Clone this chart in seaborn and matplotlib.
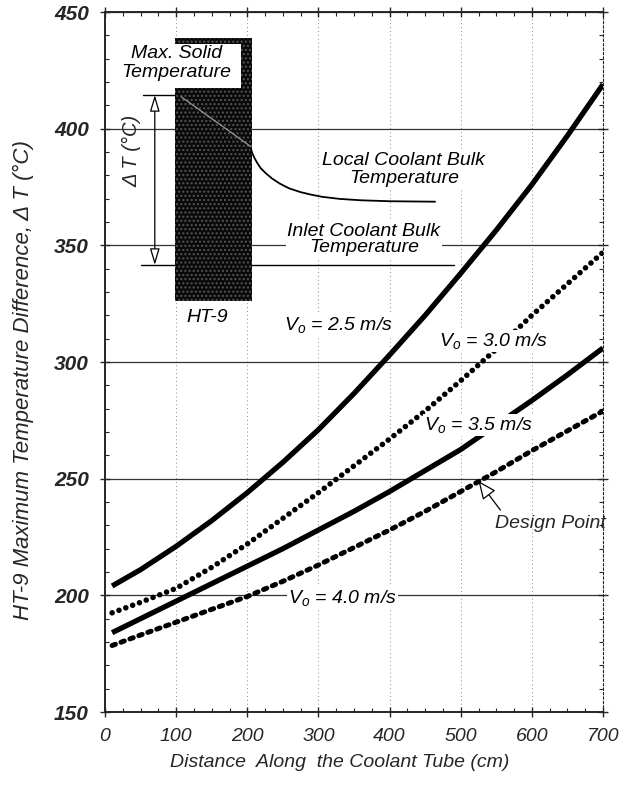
import matplotlib
matplotlib.use("Agg")
import pandas as pd
import matplotlib.pyplot as plt
import seaborn as sns
from matplotlib.patches import Rectangle
from matplotlib.ticker import MultipleLocator

# distance along the coolant tube (cm)
distance = [10, 50, 100, 150, 200, 250, 300, 350, 400, 450, 500, 550, 600, 650, 700]

# HT-9 maximum temperature difference (C) for each inlet velocity
dt_v25 = [204, 211, 221, 232, 244, 257, 271, 286.5, 303, 320, 338, 356.5, 376, 397, 419]
dt_v30 = [192.5, 197, 203, 212, 222, 233, 244, 255.5, 267, 279, 292, 305.5, 320, 333.5, 347]
dt_v35 = [184, 190, 197.5, 205, 212.5, 220, 228, 236, 244.5, 253.5, 262.5, 273, 283.5, 294.5, 306]
dt_v40 = [178.5, 183, 188.5, 194, 199.5, 206, 213, 220.5, 228, 236, 244.5, 253, 262, 270.5, 279]

velocity_labels = ["$V_o$ = 2.5 m/s", "$V_o$ = 3.0 m/s", "$V_o$ = 3.5 m/s", "$V_o$ = 4.0 m/s"]

# inset schematic of the HT-9 wall
block_x = [99, 206]
block_y = [326, 439]
label_box_x = [99, 191.5]
label_box_y = [417.3, 436.3]
diag_x = [107, 205]
diag_y = [413.7, 392.3]
local_x = [205, 207, 210, 214, 219, 226, 235, 246, 259, 275, 290, 305, 330, 360, 400, 464]
local_y = [391.5, 389.5, 387.5, 385.3, 383, 380.9, 378.6, 376.4, 374.4, 372.8, 371.7, 370.8,
           369.9, 369.3, 368.9, 368.7]
max_solid_x = [53, 99]
max_solid_y = 414.4
inlet_x = [51, 490]
inlet_y = 341.6
dt_arrow_x = 70
design_point = (525, 249)

sns.set_style("ticks")
plt.rcParams["font.family"] = ["Liberation Sans", "DejaVu Sans"]
plt.rcParams["font.style"] = "italic"
plt.rcParams["mathtext.fontset"] = "custom"
plt.rcParams["mathtext.it"] = "Liberation Sans:italic"
plt.rcParams["mathtext.rm"] = "Liberation Sans:italic"
plt.rcParams["mathtext.default"] = "it"

fig = plt.figure(figsize=(6.26, 7.87), dpi=100)
ax = fig.add_axes([105 / 626, 1 - 712 / 787, 498 / 626, 700 / 787])

df = pd.DataFrame({
    "distance": distance * 4,
    "dt": dt_v25 + dt_v30 + dt_v35 + dt_v40,
    "velocity": [v for v in velocity_labels for _ in distance],
})

styles = {
    velocity_labels[0]: dict(linestyle="-", lw=3.8),
    velocity_labels[1]: dict(linestyle=(0, (0.01, 1.3)), lw=4.0),
    velocity_labels[2]: dict(linestyle="-", lw=3.8),
    velocity_labels[3]: dict(linestyle=(0, (0.7, 1.2)), lw=3.6),
}
for v in velocity_labels:
    sns.lineplot(data=df[df["velocity"] == v], x="distance", y="dt", ax=ax,
                 color="black", errorbar=None, dash_capstyle="round",
                 solid_capstyle="butt", zorder=3, **styles[v])

# schematic block
ax.plot(inlet_x, [inlet_y, inlet_y], color="black", lw=1.0, zorder=2)
ax.plot(max_solid_x, [max_solid_y, max_solid_y], color="black", lw=1.0, zorder=2)
ax.add_patch(Rectangle((block_x[0], block_y[0]), block_x[1] - block_x[0], block_y[1] - block_y[0],
                       facecolor="#0a0a0a", edgecolor="#555555", hatch="....", lw=0, zorder=2.5))
ax.add_patch(Rectangle((label_box_x[0], label_box_y[0]), label_box_x[1] - label_box_x[0],
                       label_box_y[1] - label_box_y[0], facecolor="white", lw=0, zorder=2.6))
ax.plot(diag_x, diag_y, color="#9a9a9a", lw=0.9, zorder=2.7)
ax.plot(local_x, local_y, color="black", lw=1.3, zorder=3)
ax.annotate("", xy=(dt_arrow_x, inlet_y), xytext=(dt_arrow_x, max_solid_y),
            arrowprops=dict(arrowstyle="<|-|>,head_length=1.0,head_width=0.3",
                            fc="white", ec="black", lw=0.9, shrinkA=0, shrinkB=0), zorder=4)

txt = dict(fontsize=14, color="black", zorder=5)
box = dict(facecolor="white", edgecolor="none", pad=1.0)
ax.text(100, 428, "Max. Solid\nTemperature", ha="center", va="center", linespacing=1.15, **txt)
ax.text(38, 390.5, "Δ T (°C)", rotation=90, ha="center", va="center", fontsize=14.5, zorder=5)
ax.text(420, 382.5, "Local Coolant Bulk\nTemperature", ha="center", va="center",
        linespacing=1.15, bbox=box, **txt)
ax.text(364, 352.5, "Inlet Coolant Bulk\nTemperature", ha="center", va="center",
        linespacing=1.0, bbox=box, **txt)
ax.text(143, 319, "HT-9", ha="center", va="center", **txt)

ax.text(328, 316, velocity_labels[0], ha="center", va="center", bbox=box, **txt)
ax.text(546, 309, velocity_labels[1], ha="center", va="center", bbox=box, **txt)
ax.text(525, 273, velocity_labels[2], ha="center", va="center", bbox=box, **txt)
ax.text(334, 199, velocity_labels[3], ha="center", va="center", bbox=box, **txt)

ax.annotate("Design Point", xy=design_point, xytext=(548, 231), ha="left", va="center",
            fontsize=14, zorder=5,
            arrowprops=dict(arrowstyle="-|>,head_length=0.8,head_width=0.35", fc="white",
                            ec="black", lw=0.9, shrinkA=1, shrinkB=0, relpos=(0.08, 1.0)))

ax.set_xlim(0, 700)
ax.set_ylim(150, 450)
ax.xaxis.set_major_locator(MultipleLocator(100))
ax.xaxis.set_minor_locator(MultipleLocator(25))
ax.yaxis.set_major_locator(MultipleLocator(50))
ax.yaxis.set_minor_locator(MultipleLocator(10))
ax.yaxis.grid(True, which="major", ls="-", lw=0.9, color="#333333")
ax.xaxis.grid(True, which="major", ls=(0, (1, 3)), lw=0.7, color="#888888")
ax.set_axisbelow(True)

ax.tick_params(which="major", direction="inout", length=7, width=1, top=True, right=True,
               labelsize=14, pad=8)
ax.tick_params(which="minor", direction="in", length=3, width=0.8, top=True, right=True)
for lab in ax.get_yticklabels():
    lab.set_fontsize(15)
    lab.set_fontweight("bold")
for s in ["left", "bottom", "top"]:
    ax.spines[s].set_linewidth(1.4)
ax.spines["right"].set_linestyle((0, (2, 2)))
ax.spines["right"].set_linewidth(0.8)

ax.set_xlabel("Distance  Along  the Coolant Tube (cm)", fontsize=14)
ax.xaxis.set_label_coords(0.472, -0.06)
ax.set_ylabel("HT-9 Maximum Temperature Difference, Δ T (°C)", fontsize=16)
ax.yaxis.set_label_coords(-0.142, 0.474)

fig.savefig("out.png", dpi=100)
